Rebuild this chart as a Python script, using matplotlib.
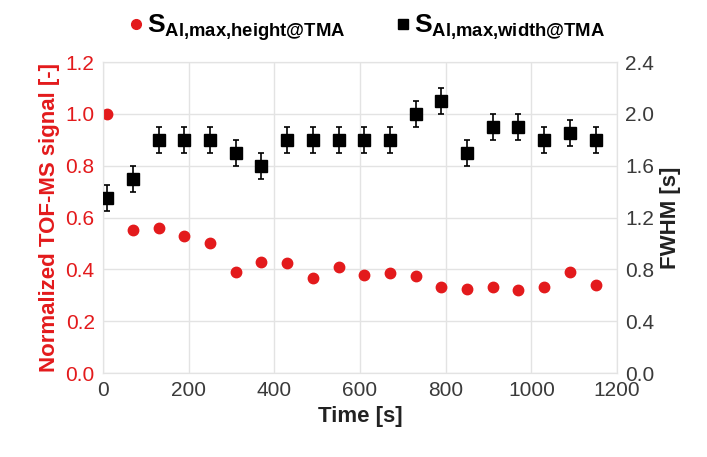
import matplotlib
matplotlib.use('Agg')
import matplotlib.pyplot as plot
from matplotlib.lines import Line2D

plot.rcParams['font.family'] = ['Liberation Sans', 'DejaVu Sans']
plot.rcParams['mathtext.fontset'] = 'custom'
plot.rcParams['mathtext.rm'] = 'Liberation Sans'
plot.rcParams['mathtext.bf'] = 'Liberation Sans:bold'
plot.rcParams['mathtext.it'] = 'Liberation Sans:italic'

temps = [10, 70, 130, 190, 250, 310, 370, 430, 490, 550,
         610, 670, 730, 790, 850, 910, 970, 1030, 1090, 1150]
signal = [1.00, 0.55, 0.56, 0.53, 0.50, 0.39, 0.43, 0.425, 0.365, 0.41,
          0.38, 0.385, 0.375, 0.33, 0.325, 0.33, 0.32, 0.33, 0.39, 0.34]
fwhm = [1.35, 1.50, 1.80, 1.80, 1.80, 1.70, 1.60, 1.80, 1.80, 1.80,
        1.80, 1.80, 2.00, 2.10, 1.70, 1.90, 1.90, 1.80, 1.85, 1.80]
fwhm_err = 0.1

rouge = '#e31a1c'
gris = '#3a3a3a'

fig = plot.figure(figsize=(7.07, 4.57), dpi=100)
ax = fig.add_axes([0.1457, 0.1838, 0.727, 0.6805])
ax2 = ax.twinx()

ax.plot(temps, signal, 'o', color=rouge, markersize=7.5, zorder=3)
ax2.errorbar(temps, fwhm, yerr=fwhm_err, fmt='s', color='black', markersize=8,
             ecolor='black', elinewidth=1.2, capsize=2.5, capthick=1.2, zorder=3)

ax.set_xlim(0, 1200)
ax.set_ylim(0, 1.2)
ax2.set_ylim(0, 2.4)
ax.set_xticks(range(0, 1201, 200))
ax.set_yticks([0.0, 0.2, 0.4, 0.6, 0.8, 1.0, 1.2])
ax2.set_yticks([0.0, 0.4, 0.8, 1.2, 1.6, 2.0, 2.4])
ax.yaxis.set_major_formatter(plot.FormatStrFormatter('%.1f'))
ax2.yaxis.set_major_formatter(plot.FormatStrFormatter('%.1f'))

ax.grid(True, color='#e3e3e3', linewidth=1.0)
ax.set_axisbelow(True)
for a in (ax, ax2):
    for s in a.spines.values():
        s.set_color('#e3e3e3')
    a.tick_params(length=0, labelsize=15, pad=6)
ax.tick_params(axis='y', labelcolor=rouge)
ax.tick_params(axis='x', labelcolor=gris)
ax2.tick_params(axis='y', labelcolor=gris)

ax.set_xlabel('Time [s]', fontsize=16, fontweight='bold', color='#222222', labelpad=4)
ax.set_ylabel('Normalized TOF-MS signal [-]', fontsize=16, fontweight='bold', color=rouge, labelpad=4)
ax2.set_ylabel('FWHM [s]', fontsize=16, fontweight='bold', color='#222222', labelpad=4)

poignees = [Line2D([], [], marker='o', color=rouge, linestyle='none', markersize=7),
            Line2D([], [], marker='s', color='black', linestyle='none', markersize=7)]
etiquettes = [r'$\mathbf{S}_{\mathbf{Al{,}max{,}height@TMA}}$',
              r'$\mathbf{S}_{\mathbf{Al{,}max{,}width@TMA}}$']
fig.legend(poignees, etiquettes, loc='upper center', bbox_to_anchor=(0.515, 1.025), ncol=2,
           frameon=False, fontsize=19, handletextpad=-0.1, columnspacing=1.7, handlelength=1.0)

plot.savefig('out.png', dpi=100)
